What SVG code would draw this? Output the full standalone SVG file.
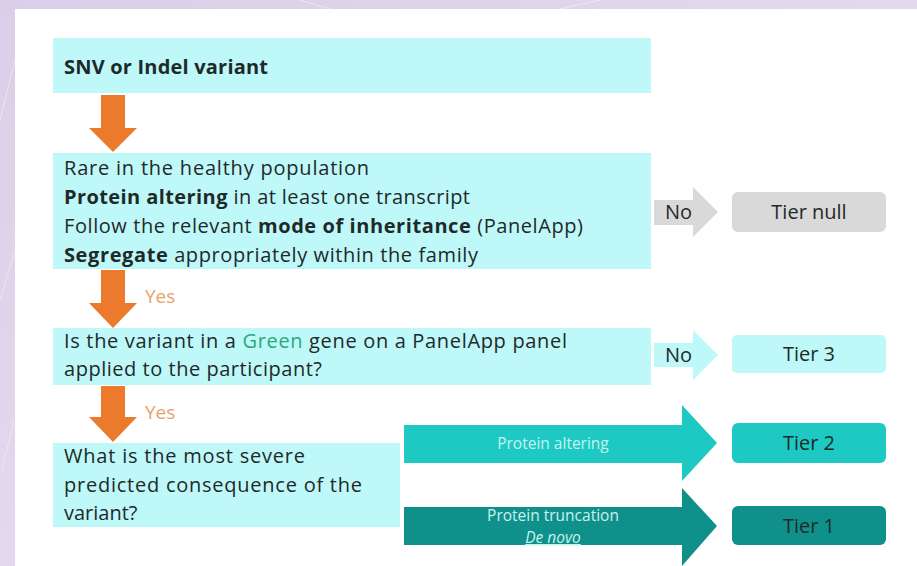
<svg xmlns="http://www.w3.org/2000/svg" width="917" height="566" viewBox="0 0 917 566">
  <defs>
    <linearGradient id="bgLav" x1="0" y1="0" x2="1" y2="1">
      <stop offset="0" stop-color="#d9cfe8"/>
      <stop offset="0.5" stop-color="#e2d9ef"/>
      <stop offset="1" stop-color="#d6cbe6"/>
    </linearGradient>
    <style>
      .t { font-family: "Open Sans", "Liberation Sans", sans-serif; font-size: 20px; fill: #1e2a2a; }
      .b { font-weight: bold; }
      .box { fill: #bff8f8; }
      .down { fill: #ec7a2c; }
      .yes { font-family: "Open Sans", "Liberation Sans", sans-serif; font-size: 19px; fill: #e6a46c; }
      .small { font-family: "Open Sans", "Liberation Sans", sans-serif; font-size: 15.5px; fill: #c6f3ef; text-anchor: middle; }
      .tier { font-family: "Open Sans", "Liberation Sans", sans-serif; font-size: 20px; fill: #1e2a2a; text-anchor: middle; }
    </style>
  </defs>

  <!-- slide backdrop -->
  <rect x="0" y="0" width="917" height="566" fill="url(#bgLav)"/>
  <g stroke="#f1ecf8" stroke-width="1" fill="none" opacity="0.7">
    <path d="M0 120 L15 60"/>
    <path d="M0 300 L15 250"/>
    <path d="M2 470 L14 420"/>
    <path d="M300 0 L330 9"/>
    <path d="M560 9 L600 0"/>
  </g>
  <rect x="15" y="9" width="902" height="557" fill="#ffffff"/>

  <!-- connectors -->
  <g id="connectors">
    <!-- orange downward arrows -->
    <path class="down" d="M101 95 H125 V128 H137 L113 152 L89 128 H101 Z"/>
    <path class="down" d="M101 270 H125 V303 H137 L113 328 L89 303 H101 Z"/>
    <text class="yes" x="145" y="303">Yes</text>
    <path class="down" d="M101 386 H125 V417 H137 L113 442 L89 417 H101 Z"/>
    <text class="yes" x="145" y="419">Yes</text>

    <!-- "No" arrows -->
    <path fill="#d9d9d9" d="M654 200 H693 V187 L718 212 L693 237 V225 H654 Z"/>
    <text class="t" x="665" y="219">No</text>
    <path fill="#bff8f8" d="M654 343 H693 V330 L718 355 L693 380 V367 H654 Z"/>
    <text class="t" x="665" y="362">No</text>

    <!-- consequence arrows -->
    <path fill="#1ec9c3" d="M404 425 H682 V405 L717 443 L682 481 V463 H404 Z"/>
    <text class="small" x="553" y="449">Protein altering</text>
    <path fill="#10908b" d="M404 507 H682 V488 L717 526 L682 566 V545 H404 Z"/>
    <text class="small" x="553" y="521">Protein truncation</text>
    <text class="small" x="553" y="543" font-style="italic" text-decoration="underline">De novo</text>
  </g>

  <!-- nodes -->
  <g id="snv">
    <rect class="box" x="53" y="38" width="598" height="55"/>
    <text class="t b" x="64" y="74" textLength="204">SNV or Indel variant</text>
  </g>

  <g id="filters">
    <rect class="box" x="53" y="153" width="598" height="116"/>
    <text class="t" x="64" y="175" textLength="305">Rare in the healthy population</text>
    <text class="t" x="64" y="204" textLength="406"><tspan class="b">Protein altering</tspan> in at least one transcript</text>
    <text class="t" x="64" y="233" textLength="519">Follow the relevant <tspan class="b">mode of inheritance</tspan> (PanelApp)</text>
    <text class="t" x="64" y="262" textLength="414"><tspan class="b">Segregate</tspan> appropriately within the family</text>
  </g>

  <g id="panel-check">
    <rect class="box" x="53" y="328" width="598" height="57"/>
    <text class="t" x="64" y="348" textLength="503">Is the variant in a <tspan fill="#2aa87c">Green</tspan> gene on a PanelApp panel</text>
    <text class="t" x="64" y="376" textLength="258">applied to the participant?</text>
  </g>

  <g id="consequence">
    <rect class="box" x="53" y="443" width="347" height="84"/>
    <text class="t" x="64" y="463" textLength="241">What is the most severe</text>
    <text class="t" x="64" y="492" textLength="298">predicted consequence of the</text>
    <text class="t" x="64" y="520">variant?</text>
  </g>

  <g id="tier-null">
    <rect x="732" y="192" width="154" height="40" rx="6" fill="#d9d9d9"/>
    <text class="tier" x="809" y="219">Tier null</text>
  </g>

  <g id="tier-3">
    <rect x="732" y="335" width="154" height="38" rx="5" fill="#bff8f8"/>
    <text class="tier" x="809" y="361">Tier 3</text>
  </g>

  <g id="tier-2">
    <rect x="732" y="423" width="154" height="40" rx="6" fill="#1ec9c3"/>
    <text class="tier" x="809" y="450">Tier 2</text>
  </g>

  <g id="tier-1">
    <rect x="732" y="506" width="154" height="39" rx="6" fill="#10908b"/>
    <text class="tier" x="809" y="533" fill="#0d3d3b">Tier 1</text>
  </g>
</svg>
